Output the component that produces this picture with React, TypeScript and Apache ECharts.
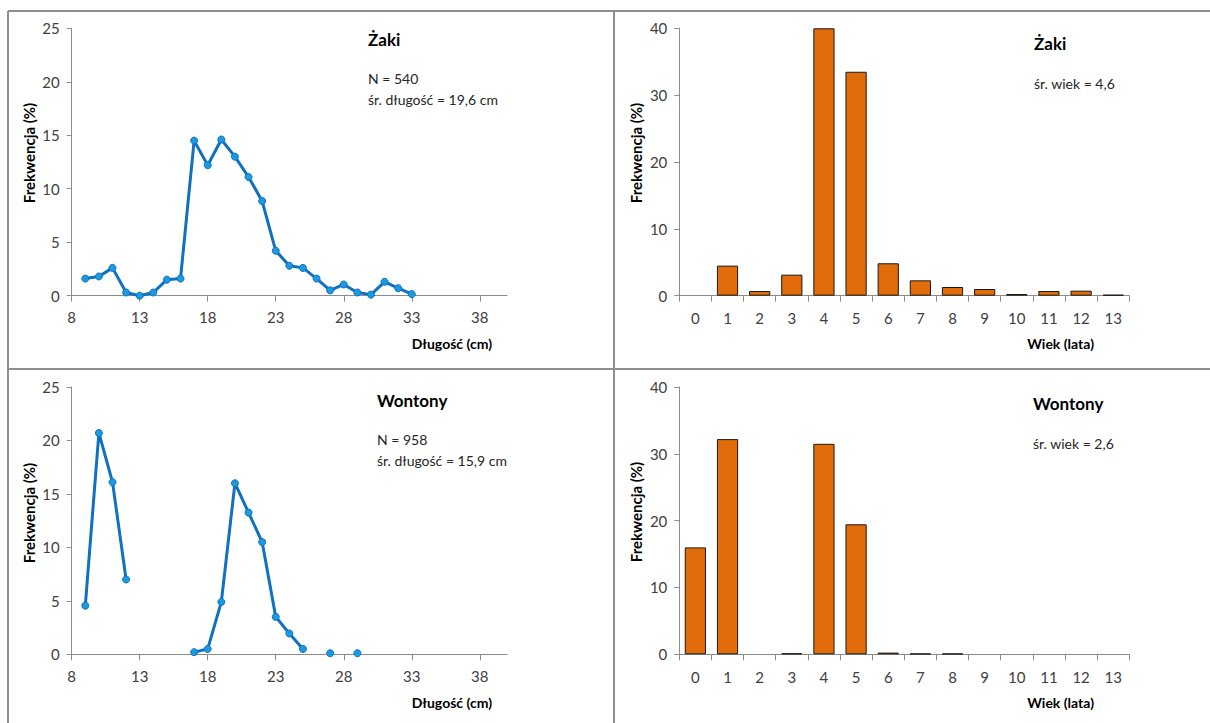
import React, { useEffect, useRef } from "react";
import * as echarts from "echarts";

// Length classes (cm) for the line charts
const lengthCats: string[] = [];
for (let v = 8; v <= 40; v++) lengthCats.push(String(v));

// Żaki length distribution: [length, %]
const zakiLen: [number, number][] = [
  [9, 1.6], [10, 1.8], [11, 2.6], [12, 0.3], [13, 0.0], [14, 0.3], [15, 1.5], [16, 1.6],
  [17, 14.5], [18, 12.2], [19, 14.6], [20, 13.0], [21, 11.1], [22, 8.85], [23, 4.2],
  [24, 2.8], [25, 2.6], [26, 1.6], [27, 0.5], [28, 1.05], [29, 0.3], [30, 0.1],
  [31, 1.3], [32, 0.7], [33, 0.15],
];

// Wontony length distribution: [length, %]
const wontonyLen: [number, number][] = [
  [9, 4.55], [10, 20.7], [11, 16.1], [12, 7.0],
  [17, 0.2], [18, 0.5], [19, 4.9], [20, 16.0], [21, 13.25], [22, 10.5], [23, 3.5],
  [24, 1.95], [25, 0.5], [27, 0.1], [29, 0.1],
];

// Age classes
const ageCats = ["0", "1", "2", "3", "4", "5", "6", "7", "8", "9", "10", "11", "12", "13"];
const zakiAge = [0, 4.5, 0.7, 3.15, 40, 33.5, 4.85, 2.3, 1.3, 1.0, 0.25, 0.7, 0.75, 0.15];
const wontonyAge = [16.0, 32.2, 0, 0.15, 31.5, 19.45, 0.25, 0.1, 0.1, 0, 0, 0, 0, 0];

const FONT = "Lato, 'Open Sans', sans-serif";
const LINE_BLUE = "#1170c0";
const MARK_BLUE = "#1a9be0";
const ORANGE = "#e36c0a";
const AXIS_GRAY = "#8c8c8c";
const LABEL_COLOR = "#404040";

function toSeries(pairs: [number, number][]): (number | null)[] {
  const map = new Map<number, number>();
  pairs.forEach(([x, y]) => map.set(x, y));
  return lengthCats.map((c) => {
    const v = map.get(Number(c));
    return v === undefined ? null : v;
  });
}

export default function App() {
  const ref = useRef<HTMLDivElement>(null);
  useEffect(() => {
    if (!ref.current) return;
    const chart = echarts.init(ref.current, undefined, { renderer: "svg" });

    const grids = [
      { left: 71.7, top: 28.3, width: 435.3, height: 267.4 },
      { left: 71.7, top: 387, width: 435.3, height: 267.3 },
      { left: 679.3, top: 28.3, width: 450, height: 267.4 },
      { left: 679.3, top: 387, width: 450, height: 267.3 },
    ];

    const axisLine = { show: true, lineStyle: { color: AXIS_GRAY, width: 1 } };
    const axisLabel = { color: LABEL_COLOR, fontSize: 15, fontFamily: FONT };

    const lenX = (gi: number) => ({
      type: "category" as const,
      gridIndex: gi,
      data: lengthCats,
      boundaryGap: false,
      axisLine,
      axisTick: { show: true, interval: 4, length: 6, lineStyle: { color: AXIS_GRAY } },
      axisLabel: { ...axisLabel, interval: 4, margin: 14 },
      splitLine: { show: false },
    });
    const ageX = (gi: number) => ({
      type: "category" as const,
      gridIndex: gi,
      data: ageCats,
      boundaryGap: true,
      axisLine,
      axisTick: { show: true, length: 6, lineStyle: { color: AXIS_GRAY } },
      axisLabel: { ...axisLabel, margin: 15 },
      splitLine: { show: false },
    });
    const yAx = (gi: number, max: number, interval: number) => ({
      type: "value" as const,
      gridIndex: gi,
      min: 0,
      max,
      interval,
      axisLine,
      axisTick: { show: true, length: 5, lineStyle: { color: AXIS_GRAY } },
      axisLabel: { ...axisLabel, margin: 12 },
      splitLine: { show: false },
    });

    const lineSeries = (gi: number, data: (number | null)[]) => ({
      type: "line" as const,
      xAxisIndex: gi,
      yAxisIndex: gi,
      data,
      connectNulls: false,
      symbol: "circle",
      symbolSize: 7,
      showSymbol: true,
      lineStyle: { color: LINE_BLUE, width: 3 },
      itemStyle: { color: MARK_BLUE, borderColor: LINE_BLUE, borderWidth: 1 },
      z: 3,
    });
    const barSeries = (gi: number, data: number[]) => ({
      type: "bar" as const,
      xAxisIndex: gi,
      yAxisIndex: gi,
      data: data.map((v) => (v === 0 ? { value: v, itemStyle: { borderWidth: 0 } } : v)),
      barCategoryGap: "34%",
      itemStyle: { color: ORANGE, borderColor: "#1a1a1a", borderWidth: 1 },
    });

    const title = (x: number, y: number, text: string) => ({
      type: "text" as const,
      x,
      y,
      style: {
        text,
        fill: "#000",
        font: `bold 17px ${FONT}`,
        textAlign: "left",
        textVerticalAlign: "middle",
      },
    });
    const note = (x: number, y: number, text: string) => ({
      type: "text" as const,
      x,
      y,
      style: {
        text,
        fill: "#262626",
        font: `14px ${FONT}`,
        textAlign: "left",
        textVerticalAlign: "middle",
      },
    });
    const yName = (x: number, y: number) => ({
      type: "text" as const,
      x,
      y,
      rotation: Math.PI / 2,
      style: {
        text: "Frekwencja (%)",
        fill: "#000",
        font: `bold 15px ${FONT}`,
        textAlign: "center",
        textVerticalAlign: "middle",
      },
    });
    const xName = (x: number, y: number, text: string) => ({
      type: "text" as const,
      x,
      y,
      style: {
        text,
        fill: "#000",
        font: `bold 14px ${FONT}`,
        textAlign: "right",
        textVerticalAlign: "middle",
      },
    });
    const border = (x1: number, y1: number, x2: number, y2: number) => ({
      type: "line" as const,
      shape: { x1, y1, x2, y2 },
      style: { stroke: "#8f8f8f", lineWidth: 2 },
    });

    chart.setOption({
      animation: false,
      backgroundColor: "#ffffff",
      grid: grids,
      xAxis: [lenX(0), lenX(1), ageX(2), ageX(3)],
      yAxis: [yAx(0, 25, 5), yAx(1, 25, 5), yAx(2, 40, 10), yAx(3, 40, 10)],
      series: [
        lineSeries(0, toSeries(zakiLen)),
        lineSeries(1, toSeries(wontonyLen)),
        barSeries(2, zakiAge),
        barSeries(3, wontonyAge),
      ],
      graphic: [
        border(8, 11, 1210, 11),
        border(8, 11, 8, 723),
        border(614, 11, 614, 723),
        border(8, 369, 1210, 369),
        title(368, 39, "Żaki"),
        note(368, 78, "N = 540"),
        note(368, 99, "śr. długość = 19,6 cm"),
        title(1034, 43, "Żaki"),
        note(1034, 83, "śr. wiek = 4,6"),
        title(377, 400, "Wontony"),
        note(377, 439, "N = 958"),
        note(377, 460, "śr. długość = 15,9 cm"),
        title(1033, 403, "Wontony"),
        note(1033, 443, "śr. wiek = 2,6"),
        yName(29, 153),
        yName(29, 513),
        yName(636, 153),
        yName(636, 512),
        xName(492, 343, "Długość (cm)"),
        xName(492, 702, "Długość (cm)"),
        xName(1094, 343, "Wiek (lata)"),
        xName(1094, 702, "Wiek (lata)"),
      ],
    });
    return () => chart.dispose();
  }, []);
  return (
    <div
      ref={ref}
      style={{ position: "fixed", left: 0, top: 0, width: 1210, height: 723, background: "#fff" }}
    />
  );
}
